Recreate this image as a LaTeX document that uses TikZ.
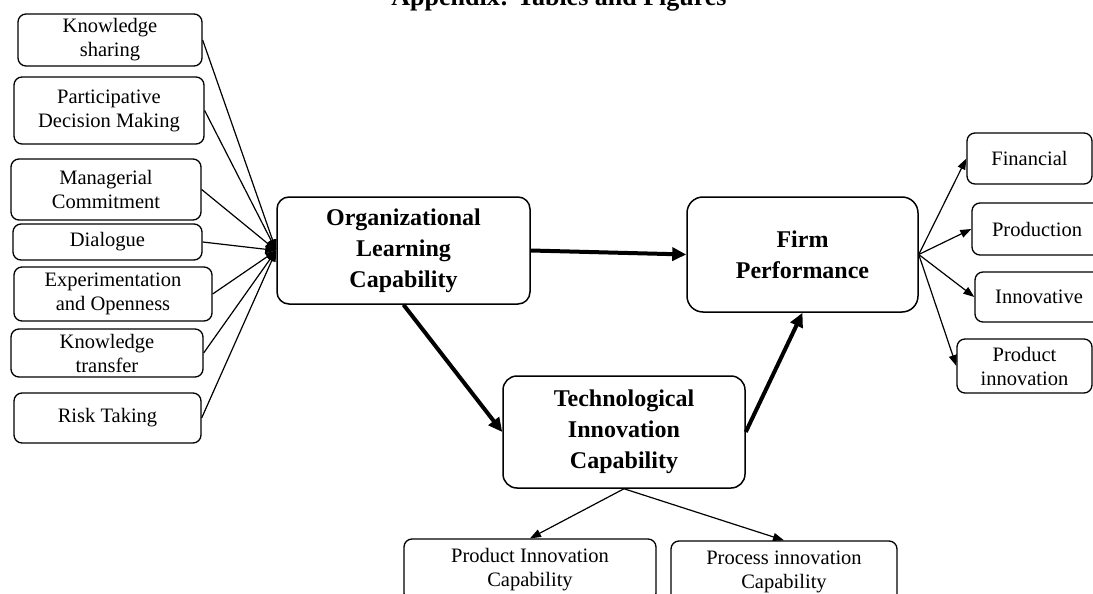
\documentclass[tikz,border=0pt]{standalone}
\usepackage{fontspec}
\setmainfont{Liberation Serif}
\usetikzlibrary{arrows.meta}

\tikzset{%
    factor/.style = {%
        draw, line width = 1.3pt, rounded corners = 8pt,
        align = center, inner sep = 0pt,
        font = \fontsize{20.5}{24}\selectfont,
    },
    construct/.style = {%
        draw, line width = 1.5pt, rounded corners = 14pt,
        align = center, inner sep = 0pt,
        font = \fontsize{24}{31}\selectfont\bfseries,
    },
    link/.style = {line width = 1.2pt, -{Triangle[length = 11pt, width = 8pt]}},
    mainlink/.style = {line width = 4pt, -{Triangle[length = 14pt, width = 13pt]}},
}

\begin{document}
\begin{tikzpicture}[x = 1pt, y = -1pt]

        % Page frame, the heading is cut at the top edge.
        \clip (0, 0) rectangle (1093, 594);
        \node[anchor = base, font = \fontsize{26}{30}\selectfont\bfseries] (title) at (559, 6) {Appendix: Tables and Figures};

        % Dimensions of organizational learning capability.
        \node[factor, minimum width = 184pt, minimum height = 52pt] (ks) at (110, 40) {Knowledge\\sharing};
        \node[factor, minimum width = 190pt, minimum height = 67pt] (pdm) at (109, 110.5) {Participative\\Decision Making};
        \node[factor, minimum width = 190pt, minimum height = 61pt] (mc) at (106, 189.5) {Managerial\\Commitment};
        \node[factor, minimum width = 189pt, minimum height = 36pt] (dia) at (107.5, 242) {Dialogue};
        \node[factor, minimum width = 198pt, minimum height = 54pt] (eo) at (113, 294) {Experimentation\\and Openness};
        \node[factor, minimum width = 192pt, minimum height = 48pt] (kt) at (107, 353) {Knowledge\\transfer};
        \node[factor, minimum width = 187pt, minimum height = 50pt] (rt) at (107.5, 418) {Risk Taking};

        % Main constructs.
        \node[construct, minimum width = 253pt, minimum height = 107pt, rounded corners = 12pt] (olc) at (403.5, 250.5) {Organizational\\Learning\\Capability};
        \node[construct, minimum width = 231pt, minimum height = 115pt, rounded corners = 16pt] (fp) at (802.5, 254.5) {Firm\\Performance};
        \node[construct, minimum width = 242pt, minimum height = 112pt] (tic) at (624, 432) {Technological\\Innovation\\Capability};

        % Dimensions of firm performance.
        \node[factor, minimum width = 125pt, minimum height = 51pt] (fin) at (1029.5, 158.5) {Financial};
        \node[factor, minimum width = 130pt, minimum height = 52pt] (prod) at (1037, 229) {Production};
        \node[factor, minimum width = 128pt, minimum height = 50pt] (inn) at (1039, 297) {Innovative};
        \node[factor, minimum width = 135pt, minimum height = 54pt] (pi) at (1024.5, 366) {Product\\innovation};

        % Dimensions of technological innovation capability.
        \node[factor, minimum width = 252pt, minimum height = 62pt] (pic) at (530, 570) {Product Innovation\\Capability};
        \node[factor, minimum width = 226pt, minimum height = 62pt] (prc) at (784, 572) {Process innovation\\Capability};

        % Thin arrows into the learning capability box.
        \draw[link] (ks.east) -- (olc.west);
        \draw[link] (pdm.east) -- (olc.west);
        \draw[link] (mc.east) -- (olc.west);
        \draw[link] (dia.east) -- (olc.west);
        \draw[link] (eo.east) -- (olc.west);
        \draw[link] (kt.east) -- (olc.west);
        \draw[link] (rt.east) -- (olc.west);

        % Hypothesised paths.
        \draw[mainlink] (olc.east) -- (fp.west);
        \draw[mainlink] (olc.south) -- (tic.west);
        \draw[mainlink] (tic.east) -- (fp.south);

        % Thin arrows out to the measures.
        \draw[link] (fp.east) -- (fin.west);
        \draw[link] (fp.east) -- (prod.west);
        \draw[link] (fp.east) -- (inn.west);
        \draw[link] (fp.east) -- (pi.west);
        \draw[link] (tic.south) -- (pic.north);
        \draw[link] (tic.south) -- (prc.north);
    \end{tikzpicture}
\end{document}
